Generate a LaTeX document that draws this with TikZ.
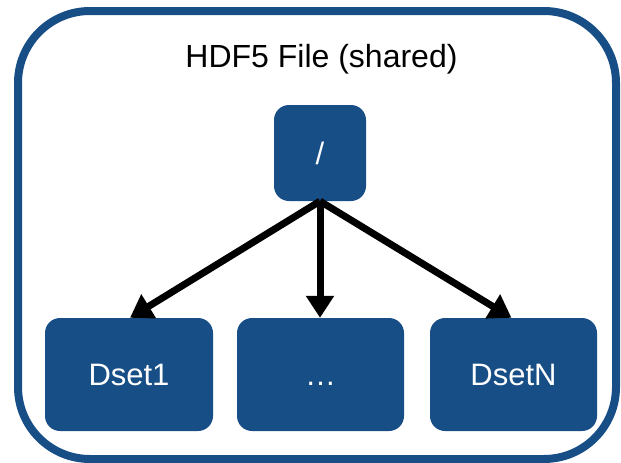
\documentclass[tikz,border=0pt]{standalone}
\usepackage{fontspec}
\setmainfont{Liberation Sans}
\usetikzlibrary{arrows.meta}
\definecolor{hdfblue}{HTML}{174E86}
\tikzset{
  x=1pt, y=-1pt,
  filebox/.style={draw=hdfblue, line width=8pt, rounded corners=72pt},
  objbox/.style={fill=hdfblue, draw=none, rounded corners=15pt, inner sep=0pt,
    text=white, font=\fontsize{31}{37}\selectfont,
    text height=22pt, text depth=0pt},
  link/.style={draw=black, line width=7pt,
    -{Triangle[length=22pt,width=27pt]}, shorten >=0pt},
}
\begin{document}
\begin{tikzpicture}
  \useasboundingbox (0,0) rectangle (621,463);
  % shared file container
  \draw[filebox] (18,11) rectangle (616,459);
  \node[font=\fontsize{32}{38}\selectfont, anchor=base] (title) at (321.5,67) {HDF5 File (shared)};
  % root group
  \node[objbox, minimum width=92pt, minimum height=96pt] (root) at (320,153) {/};
  % datasets
  \node[objbox, minimum width=168pt, minimum height=113pt] (d1) at (129,374.5) {Dset1};
  \node[objbox, minimum width=167pt, minimum height=113pt] (dm) at (320.5,374.5) {…};
  \node[objbox, minimum width=167pt, minimum height=113pt] (dn) at (513.5,374.5) {DsetN};
  % links from the root group
  \coordinate (r) at (root.south);
  \draw[link] (r) -- ([xshift=1pt]d1.north);
  \draw[link] (r) -- ([xshift=-0.5pt]dm.north);
  \draw[link] (r) -- ([xshift=-2pt]dn.north);
\end{tikzpicture}
\end{document}
